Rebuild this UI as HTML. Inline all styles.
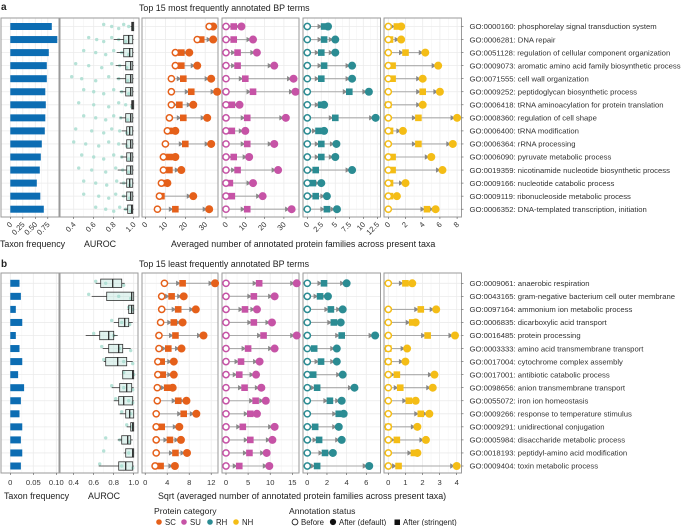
<!DOCTYPE html>
<html><head><meta charset="utf-8">
<style>
html,body{margin:0;padding:0;background:#fff;}
svg{display:block;font-family:"Liberation Sans",sans-serif;}
</style></head>
<body>
<svg id="fig" width="685" height="526" viewBox="0 0 685 526"></svg>
<script>
// ---------- DATA ----------
const termsA = ["GO:0000160: phosphorelay signal transduction system","GO:0006281: DNA repair","GO:0051128: regulation of cellular component organization","GO:0009073: aromatic amino acid family biosynthetic process","GO:0071555: cell wall organization","GO:0009252: peptidoglycan biosynthetic process","GO:0006418: tRNA aminoacylation for protein translation","GO:0008360: regulation of cell shape","GO:0006400: tRNA modification","GO:0006364: rRNA processing","GO:0006090: pyruvate metabolic process","GO:0019359: nicotinamide nucleotide biosynthetic process","GO:0009166: nucleotide catabolic process","GO:0009119: ribonucleoside metabolic process","GO:0006352: DNA-templated transcription, initiation"];
const termsB = ["GO:0009061: anaerobic respiration","GO:0043165: gram-negative bacterium cell outer membrane","GO:0097164: ammonium ion metabolic process","GO:0006835: dicarboxylic acid transport","GO:0016485: protein processing","GO:0003333: amino acid transmembrane transport","GO:0017004: cytochrome complex assembly","GO:0017001: antibiotic catabolic process","GO:0098656: anion transmembrane transport","GO:0055072: iron ion homeostasis","GO:0009266: response to temperature stimulus","GO:0009291: unidirectional conjugation","GO:0005984: disaccharide metabolic process","GO:0018193: peptidyl-amino acid modification","GO:0009404: toxin metabolic process"];

const freqA = [0.83,0.94,0.77,0.73,0.73,0.70,0.71,0.70,0.69,0.63,0.61,0.59,0.53,0.60,0.67];
const freqB = [0.020,0.023,0.012,0.026,0.012,0.020,0.026,0.017,0.030,0.023,0.020,0.026,0.023,0.026,0.023];

const aurocA = [[0.97,0.98,0.99,1.0,1.0],[0.80,0.90,0.95,0.99,1.0],[0.83,0.90,0.96,0.99,1.0],[0.82,0.92,0.97,0.99,1.0],[0.83,0.92,0.97,0.99,1.0],[0.86,0.92,0.97,0.99,1.0],[0.97,0.98,0.99,1.0,1.0],[0.86,0.92,0.97,0.99,1.0],[0.88,0.93,0.96,0.99,1.0],[0.88,0.93,0.97,0.99,1.0],[0.87,0.93,0.97,0.99,1.0],[0.84,0.93,0.97,0.99,1.0],[0.86,0.93,0.96,0.99,1.0],[0.88,0.93,0.97,0.99,1.0],[0.90,0.94,0.98,0.99,1.0]];
const aurocB = [[0.62,0.67,0.79,0.88,0.91],[0.58,0.73,0.98,1.0,1.0],[0.94,0.95,0.98,1.0,1.0],[0.80,0.85,0.91,0.95,0.99],[0.52,0.66,0.75,0.80,0.84],[0.69,0.75,0.85,0.89,0.97],[0.70,0.72,0.84,0.93,0.99],[0.89,0.89,0.99,1.0,1.0],[0.78,0.86,0.93,0.98,1.0],[0.80,0.85,0.90,0.99,1.0],[0.86,0.92,0.96,1.0,1.0],[0.93,0.97,0.99,1.0,1.0],[0.84,0.88,0.94,0.97,0.99],[0.90,0.92,0.99,1.0,1.0],[0.65,0.85,0.92,0.99,1.0]];
const aurocPtsA = [[0.70,0.78,0.85,0.9,0.95,0.99],[0.55,0.63,0.7,0.78,0.85,0.92],[0.5,0.62,0.72,0.8,0.88,0.95],[0.42,0.55,0.68,0.78,0.86,0.93],[0.38,0.48,0.62,0.75,0.85,0.94],[0.5,0.6,0.7,0.8,0.88,0.95],[0.45,0.6,0.75,0.85,0.92,0.98],[0.5,0.62,0.72,0.8,0.87,0.94],[0.42,0.58,0.7,0.78,0.86,0.93],[0.4,0.52,0.65,0.75,0.85,0.93],[0.48,0.6,0.7,0.8,0.88,0.95],[0.45,0.58,0.72,0.82,0.89,0.95],[0.5,0.62,0.73,0.83,0.9,0.96],[0.5,0.65,0.75,0.82,0.9,0.96],[0.62,0.72,0.8,0.86,0.92,0.97]];
const aurocPtsB = [[0.62,0.72,0.9],[0.55,0.85,0.97],[0.95,0.99],[0.78,0.88,0.96],[0.6,0.8],[0.68,0.86,0.97],[0.70,0.9,0.99],[0.9,1.0],[0.78,0.9,0.99],[0.82,0.95,0.99],[0.88,0.97],[0.93,0.98],[0.72,0.86,0.96],[0.70,0.95],[0.66,0.88,0.99]];

const scBeforeA=[32,26,15,15,13,13,13,12,11,10,9,9,8,7,6];
const scStrA   =[33,28,18,18,19,23,17,19,12,20,12,12,9,8,15];
const scDefA   =[34,34,22,26,33,36,24,31,15,33,15,18,11,24,32];
const suBeforeA=[0,0,0,0,0,0,0,0,0,0,0,0,0,0,0];
const suStrA   =[4,4,6,6,10,14,3,11,3,11,4,6,2,3,11];
const suDefA   =[8,14,16,25,35,36,7,31,10,25,12,27,14,19,34];
const rhBeforeA=[0,0,0,0,0,0,0,0,0,0,0,0,0,0,0];
const rhStrA   =[3,3,2.5,3,2.5,7.5,2.5,5,2,2.5,2.5,1.5,1,1.5,3.5];
const rhDefA   =[3.7,5,5,8,8,11,3,12.2,3,5.2,5,8,2.5,3.5,5.3];
const nhBeforeA=[0,0,0,0,0,0,0,0,0,0,0,0,0,0,0];
const nhStrA   =[1,0.2,2,0.5,0.5,4,0,3.5,0.2,3.5,0.5,0.5,0.2,0.2,4.5];
const nhDefA   =[1.5,1.5,4.3,5.8,4,6,4,8,1.7,7.5,5,6.3,2,1,5.5];
const scBeforeB=[3.5,3,3,2.8,2.5,2.5,2.3,2.3,2.2,2.2,2,2,2,2,1.8];
const scStrB   =[6.8,4.8,6,5.2,5.5,4.2,3,3.2,4,6,7,3,4.5,5.5,2.8];
const scDefB   =[12.7,7,9.2,6.8,10.6,6.6,5.2,5.2,5,7.5,9.3,6.2,6.5,7.6,5.4];
const suBeforeB=[0,0,0,0,0,0,0,0,0,0,0,0,0,0,0];
const suStrB   =[7.5,6.3,4.3,6.3,8.5,5,3.4,3,4.2,6.7,5.5,3.8,5.5,5.3,3];
const suDefB   =[16,11,7,10.4,16,11,7.6,6.8,8,9,7,11,10.5,9.2,9.8];
const rhBeforeB=[0,0,0,0,0,0,0,0,0,0,0,0,0,0,0];
const rhStrB   =[1.7,1.3,2.4,2.7,3.5,0.7,1.4,0.6,1,2.3,3.2,0.8,1.2,1.8,1];
const rhDefB   =[4,2.1,3.6,3.4,6.9,3,3,3.6,4.8,3.5,3.7,3.2,3.5,2.6,6.3];
const nhBeforeB=[0,null,0,0,0,0,0,0,0,0,0,0,0,0,0];
const nhStrB   =[1,null,1.9,1.4,2.3,0,0,0.5,0.7,1.2,1.9,0,0.5,1.5,0.6];
const nhDefB   =[1.4,null,2.8,1.6,3.9,1.1,1,2.7,2.6,1.6,2.4,1.7,2.2,1.7,4];

const ticksFreqA=[0,0.25,0.5,0.75], ticksFreqB=[0,0.05,0.1];
const tickLabFreqA=["0","0.25","0.50","0.75"], tickLabFreqB=["0","0.05","0.10"];
const ticksAuroc=[0.4,0.6,0.8,1.0], tickLabAuroc=["0.4","0.6","0.8","1.0"];
const ticksScA=[0,10,20,30], ticksSuA=[0,10,20,30], ticksRhA=[0,2.5,5,7.5,10,12.5], ticksNhA=[0,2,4,6,8];
const ticksScB=[0,4,8,12], ticksSuB=[0,5,10,15], ticksRhB=[0,2,4,6], ticksNhB=[0,1,2,3,4];

// ---------- DRAWING ----------
const NS="http://www.w3.org/2000/svg";
const svg=document.getElementById('fig');
function el(tag,attrs,parent,text){const e=document.createElementNS(NS,tag);for(const k in attrs)e.setAttribute(k,attrs[k]);if(text!==undefined)e.textContent=text;(parent||svg).appendChild(e);return e;}
const COL={sc:"#e5601a",su:"#c653a6",rh:"#2b8c93",nh:"#f4bd16",bar:"#0c6db3",pt:"#a9ddd0"};
const GRID="#ebebeb", FRAME="#9a9a9a", TXT="#333";

function makeAxis(o,s){return v=>o+v*s;}

function drawBlock(cfg){
  const rowY=i=>cfg.y0+i*cfg.dy;
  cfg.panels.forEach(p=>{
    const g=el('g',{},svg);
    
    
    const X=makeAxis(p.o,p.s);
    for(let k=0;k<p.ticks.length-1;k++){
      const mx=(X(p.ticks[k])+X(p.ticks[k+1]))/2;
      el('line',{x1:mx,x2:mx,y1:cfg.top,y2:cfg.bot,stroke:"#f4f4f4","stroke-width":0.6},g);
    }
    p.ticks.forEach(t=>el('line',{x1:X(t),x2:X(t),y1:cfg.top,y2:cfg.bot,stroke:GRID,"stroke-width":0.8},g));
    for(let i=0;i<15;i++)el('line',{x1:p.x0,x2:p.x1,y1:rowY(i),y2:rowY(i),stroke:GRID,"stroke-width":0.8},g);
    el('rect',{x:p.x0,y:cfg.top,width:p.x1-p.x0,height:cfg.bot-cfg.top,fill:"none",stroke:FRAME,"stroke-width":1},g);
    p.ticks.forEach((t,k)=>{
      el('line',{x1:X(t),x2:X(t),y1:cfg.bot,y2:cfg.bot+2,stroke:"#555","stroke-width":0.6},g);
      const lab=p.labels?p.labels[k]:String(t);
      if(cfg.rot){
        const tx=el('text',{x:X(t)+2.5,y:cfg.bot+8,"font-size":7.6,fill:TXT,"text-anchor":"end",transform:`rotate(-45 ${X(t)+2.5} ${cfg.bot+8})`},g,lab);
        
        
      } else {
        const tx=el('text',{x:X(t),y:cfg.bot+12,"font-size":7.6,fill:TXT,"text-anchor":"middle"},g,lab);
        
        
      }
    });
    p.draw(g,X,rowY);
  });
  const lx=cfg.panels[cfg.panels.length-1].x1;
  cfg.terms.forEach((t,i)=>{
    el('line',{x1:lx,x2:lx+2,y1:rowY(i),y2:rowY(i),stroke:"#555","stroke-width":0.6});
    const tx=el('text',{x:lx+8,y:rowY(i)+2.7,"font-size":7.7,fill:TXT},svg,t);
    
    
  });
}

function barsDraw(vals){return (g,X,Y)=>vals.forEach((v,i)=>{
  const r=el('rect',{x:X(0),y:Y(i)-3.5,width:X(v)-X(0),height:7,fill:COL.bar},g);
  
  
});}
function boxDraw(stats,pts){return (g,X,Y)=>stats.forEach((s,i)=>{
  pts[i].forEach((v,k)=>{
    const c=el('circle',{cx:X(v),cy:Y(i)+((k%3)-1)*2,r:1.7,fill:COL.pt,opacity:0.85},g);
    
    
  });
  el('line',{x1:X(s[0]),x2:X(s[1]),y1:Y(i),y2:Y(i),stroke:"#333","stroke-width":0.8},g);
  el('line',{x1:X(s[3]),x2:X(s[4]),y1:Y(i),y2:Y(i),stroke:"#333","stroke-width":0.8},g);
  const b=el('rect',{x:X(s[1]),y:Y(i)-4.2,width:Math.max(X(s[3])-X(s[1]),1),height:8.4,fill:"rgba(169,221,208,0.35)",stroke:"#333","stroke-width":0.8},g);
  
  
  el('line',{x1:X(s[2]),x2:X(s[2]),y1:Y(i)-4.2,y2:Y(i)+4.2,stroke:"#222","stroke-width":1.2},g);
});}
function lolliDraw(bef,str,def,col,nm){return (g,X,Y)=>bef.forEach((b,i)=>{
  if(b===null)return;
  const y=Y(i), xb=X(b), xs=X(str[i]), xd=X(def[i]);
  el('line',{x1:xb,x2:xd,y1:y,y2:y,stroke:"#aaa","stroke-width":1.1},g);
  [xs,xd].forEach(xx=>{ if(xx-xb>5) el('path',{d:`M${xx-6.5} ${y-2.7} L${xx-2} ${y} L${xx-6.5} ${y+2.7}Z`,fill:"#888"},g); });
  const sq=el('rect',{x:xs-3.3,y:y-3.3,width:6.6,height:6.6,fill:col},g);
  
  
  const cd=el('circle',{cx:xd,cy:y,r:4,fill:col},g);
  
  
  const cb=el('circle',{cx:xb,cy:y,r:3.1,fill:"#fff",stroke:col,"stroke-width":1.5},g);
  
  
});}

drawBlock({top:18,bot:217,y0:26.5,dy:13.05,rot:true,terms:termsA,panels:[
  {name:"taxon-frequency-a",x0:1,x1:59,o:10.3,s:50,ticks:ticksFreqA,labels:tickLabFreqA,draw:barsDraw(freqA)},
  {name:"auroc-a",x0:60,x1:139,o:33.7,s:100,ticks:ticksAuroc,labels:tickLabAuroc,draw:boxDraw(aurocA,aurocPtsA)},
  {name:"sc-a",x0:142,x1:218,o:145.5,s:1.99,ticks:ticksScA,draw:lolliDraw(scBeforeA,scStrA,scDefA,COL.sc,"sc")},
  {name:"su-a",x0:222,x1:299,o:226,s:1.93,ticks:ticksSuA,draw:lolliDraw(suBeforeA,suStrA,suDefA,COL.su,"su")},
  {name:"rh-a",x0:303,x1:380.5,o:307.3,s:5.6,ticks:ticksRhA,draw:lolliDraw(rhBeforeA,rhStrA,rhDefA,COL.rh,"rh")},
  {name:"nh-a",x0:384,x1:461.5,o:388.3,s:8.6,ticks:ticksNhA,draw:lolliDraw(nhBeforeA,nhStrA,nhDefA,COL.nh,"nh")}
]});
drawBlock({top:273,bot:473,y0:283.3,dy:13.05,rot:false,terms:termsB,panels:[
  {name:"taxon-frequency-b",x0:1,x1:59,o:10.3,s:460,ticks:ticksFreqB,labels:tickLabFreqB,draw:barsDraw(freqB)},
  {name:"auroc-b",x0:60,x1:138,o:33.7,s:100,ticks:ticksAuroc,labels:tickLabAuroc,draw:boxDraw(aurocB,aurocPtsB)},
  {name:"sc-b",x0:142,x1:218,o:145.2,s:5.5,ticks:ticksScB,draw:lolliDraw(scBeforeB,scStrB,scDefB,COL.sc,"sc")},
  {name:"su-b",x0:222,x1:299,o:226,s:4.42,ticks:ticksSuB,draw:lolliDraw(suBeforeB,suStrB,suDefB,COL.su,"su")},
  {name:"rh-b",x0:303,x1:380.5,o:307.3,s:9.83,ticks:ticksRhB,draw:lolliDraw(rhBeforeB,rhStrB,rhDefB,COL.rh,"rh")},
  {name:"nh-b",x0:384,x1:461.5,o:388.3,s:17.1,ticks:ticksNhB,draw:lolliDraw(nhBeforeB,nhStrB,nhDefB,COL.nh,"nh")}
]});
</script>
<script>
(function(){
const NS="http://www.w3.org/2000/svg";const svg=document.getElementById('fig');
function t(x,y,s,txt,name,extra){const e=document.createElementNS(NS,'text');e.setAttribute('x',x);e.setAttribute('y',y);e.setAttribute('font-size',s);e.setAttribute('fill','#222');if(extra)for(const k in extra)e.setAttribute(k,extra[k]);e.textContent=txt;svg.appendChild(e);return e;}
t(1,10,10,"a","panel-label-a",{"font-weight":"bold"});
t(139,11,8.9,"Top 15 most frequently annotated BP terms","title-a");
t(0,247,8.9,"Taxon frequency","x-axis-title-freq-a");
t(84,247,8.9,"AUROC","x-axis-title-auroc-a");
t(171,247,8.9,"Averaged number of annotated protein families across present taxa","x-axis-title-count-a");
t(1,267,10,"b","panel-label-b",{"font-weight":"bold"});
t(139,267,8.9,"Top 15 least frequently annotated BP terms","title-b");
t(4,499,8.9,"Taxon frequency","x-axis-title-freq-b");
t(88,499,8.9,"AUROC","x-axis-title-auroc-b");
t(158,499,8.9,"Sqrt (averaged number of annotated protein families across present taxa)","x-axis-title-count-b");
t(154,514,8.6,"Protein category","legend-title-category");
t(289,514,8.6,"Annotation status","legend-title-status");
const cats=[["SC","#e5601a",159],["SU","#c653a6",184],["RH","#2b8c93",210],["NH","#f4bd16",236]];
cats.forEach(c=>{const d=document.createElementNS(NS,'circle');d.setAttribute('cx',c[2]);d.setAttribute('cy',522);d.setAttribute('r',2.8);d.setAttribute('fill',c[1]);


svg.appendChild(d);t(c[2]+6,525,7.8,c[0],'legend-entry-'+c[0].toLowerCase());});
let c=document.createElementNS(NS,'circle');c.setAttribute('cx',295);c.setAttribute('cy',522);c.setAttribute('r',2.9);c.setAttribute('fill','#fff');c.setAttribute('stroke','#222');c.setAttribute('stroke-width',0.9);


svg.appendChild(c);t(301,525,7.8,"Before","legend-entry-before");
c=document.createElementNS(NS,'circle');c.setAttribute('cx',333);c.setAttribute('cy',522);c.setAttribute('r',3.1);c.setAttribute('fill','#111');


svg.appendChild(c);t(339,525,7.8,"After (default)","legend-entry-default");
const r=document.createElementNS(NS,'rect');r.setAttribute('x',394.5);r.setAttribute('y',519.5);r.setAttribute('width',5.5);r.setAttribute('height',5.5);r.setAttribute('fill','#111');


svg.appendChild(r);t(403,525,7.8,"After (stringent)","legend-entry-stringent");
})();
</script>
</body></html>
